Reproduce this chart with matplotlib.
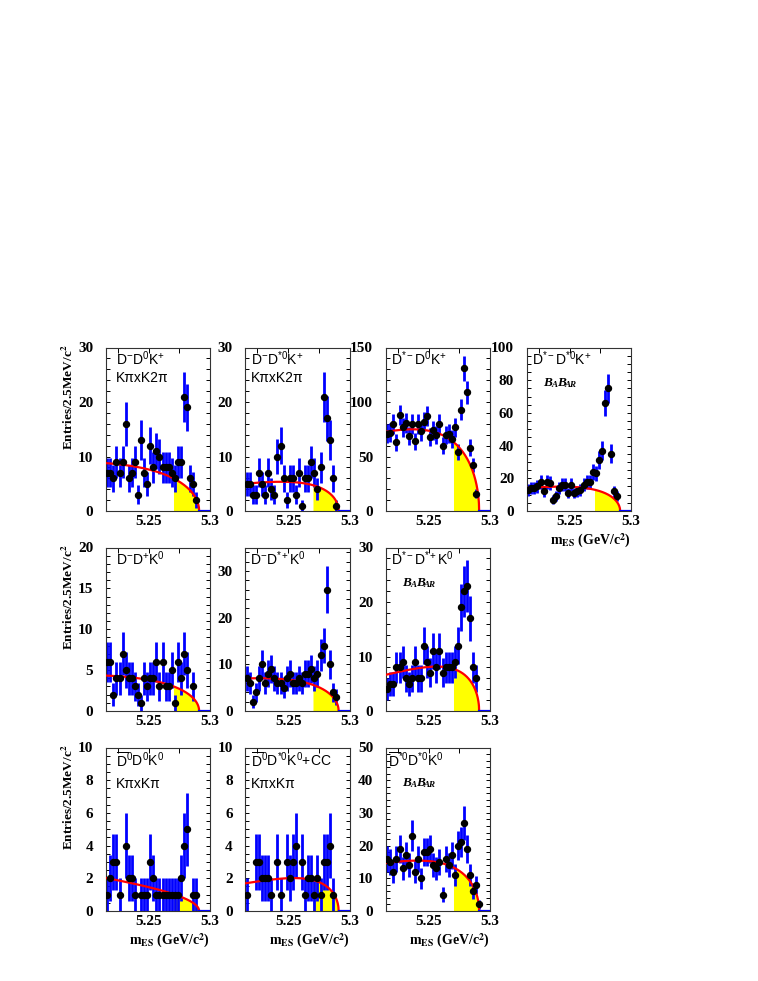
import numpy as np
import matplotlib.pyplot as plt
from matplotlib.ticker import MultipleLocator

plt.rcParams['font.family'] = ['Liberation Serif', 'DejaVu Serif']
plt.rcParams['mathtext.fontset'] = 'custom'
plt.rcParams['mathtext.rm'] = 'Liberation Sans'
plt.rcParams['mathtext.it'] = 'Liberation Sans:italic'
plt.rcParams['mathtext.bf'] = 'Liberation Sans:bold'

nan = np.nan

# entries per 2.5 MeV bin, first bin centred at 5.21625 GeV (nan = empty bin)
dm_d0_kp = [7, 7, 6, 9, 7, 9, 16, 6, 7, 9, 3, 13, 7, 5, 12, 8, 11, 10, 8, 8,
            8, 7, 6, 9, 9, 21, 19, 6, 5, 2]
dm_ds0_kp = [5, 5, 3, 3, 7, 5, 3, 7, 4, 3, 10, 12, 6, 2, 6, 6, 3, 7, 1, 6,
             6, 9, 7, 4, 8, 21, 17, 13, 6, 1]
dsm_d0_kp = [71, 72, 80, 63, 88, 77, 81, 69, 80, 64, 80, 73, 82, 87, 68, 74,
             70, 80, 60, 70, 71, 66, 77, 54, 93, 131, 109, 58, 42, 16]
dsm_ds0_kp = [13, 14, 14, 15, 18, 12, 18, 17, 7, 9, 14, 16, 16, 11, 16, 11,
              12, 13, 16, 18, 18, 24, 23, 31, 37, 66, 75, 35, 12, 9]
dm_dp_k0 = [6, 6, 2, 4, 4, 7, 5, 4, 4, 3, 2, 1, 4, 3, 4, 4, 6, 3, 6, 3,
            3, 5, 1, 6, 4, 7, 5, nan, 3, nan]
dm_dsp_k0 = [7, 6, 2, 4, 7, 10, 6, 8, 9, 7, 6, 6, 5, 7, 8, 6, 6, 7, 6, 8,
             8, 9, 7, 8, 12, 14, 26, 10, 4, 3]
dsm_dsp_k0 = [4, 5, 5, 8, 8, 9, 6, 5, 6, 9, 6, 6, 12, 9, 7, 11, 8, 11, 7, 8,
              8, 8, 9, 12, 19, 22, 23, 17, 8, 6]
d0b_d0_k0 = [1, 2, 3, 3, 1, nan, 4, 2, 2, 1, nan, 1, 1, 1, 3, 2, 1, 1, 1, 1,
             1, 1, 1, 1, 2, 4, 5, nan, 1, 1]
d0b_ds0_k0 = [1, nan, nan, 3, 3, 2, 2, 2, 1, nan, 3, 1, nan, 3, 2, 3, 4, nan,
              3, 1, 2, 2, 1, 2, 1, 3, 3, 4, 1, nan]
ds0b_ds0_k0 = [16, 15, 12, 16, 19, 13, 17, 14, 23, 12, 16, 10, 18, 18, 19, 14,
               13, 15, 5, 16, 14, 17, 11, 20, 21, 27, 19, 11, 6, 8, 2]

# panel titles
titles = [
    [r'D$^{-}$D$^{0}$K$^{+}$', 'KπxK2π'],
    [r'D$^{-}$D$^{*0}$K$^{+}$', 'KπxK2π'],
    [r'D$^{*-}$D$^{0}$K$^{+}$'],
    [r'D$^{*-}$D$^{*0}$K$^{+}$'],
    [r'D$^{-}$D$^{+}$K$^{0}$'],
    [r'D$^{-}$D$^{*+}$K$^{0}$'],
    [r'D$^{*-}$D$^{*+}$K$^{0}$'],
    [r'$\overline{\mathrm{D}}^{0}$D$^{0}$K$^{0}$', 'KπxKπ'],
    [r'$\overline{\mathrm{D}}^{0}$D$^{*0}$K$^{0}$+CC', 'KπxKπ'],
    [r'$\overline{\mathrm{D}}^{*0}$D$^{*0}$K$^{0}$'],
]

# ARGUS background: height at 5.22 GeV and shape parameter
argus_level = [8.7, 5.1, 73.5, 14.3, 4.3, 7.0, 6.9, 1.95, 1.75, 14.9]
argus_shape = [-12, -28, -24, -27, -13, -20, -38, 2, -36, -26]
m_end = 5.291
m_sig = 5.27

counts = [dm_d0_kp, dm_ds0_kp, dsm_d0_kp, dsm_ds0_kp, dm_dp_k0, dm_dsp_k0,
          dsm_dsp_k0, d0b_d0_k0, d0b_ds0_k0, ds0b_ds0_k0]
ymax = [30, 30, 150, 100, 20, 35, 30, 10, 10, 50]
ystep = [10, 10, 50, 20, 5, 10, 10, 2, 2, 10]
ystep_minor = [2, 2, 10, 5, 1, 2, 2, 0.5, 0.5, 2]
grid = [(0, 0), (0, 1), (0, 2), (0, 3), (1, 0), (1, 1), (1, 2),
        (2, 0), (2, 1), (2, 2)]
title_x = [0.10, 0.055, 0.048, 0.048, 0.10, 0.048, 0.048, 0.10, 0.055, 0.02]
title_y = [(0.89, 0.786)] * 7 + [(0.882, 0.755)] * 3
babar = [3, 6, 9]
xlab = [3, 7, 8, 9]

W, H = 758, 981
col_left = [105.7, 245.2, 385.7, 526.7]
row_top = [347.5, 547.5, 747.5]
pw, ph = 104.5, 163.5


def argus(m, c):
    u = np.clip(1 - (m / m_end) ** 2, 0, None)
    return m * np.sqrt(u) * np.exp(c * u)


def draw_babar(ax, x, y):
    kw = dict(style='italic', weight='bold', family='Liberation Serif', color='k')
    t = ax.text(x, y, 'B', transform=ax.transAxes, fontsize=9.5, va='bottom', **kw)
    for s, fs in [('A', 6.5), ('B', 9.5), ('AR', 6.5)]:
        t = ax.annotate(s, xy=(1, 0), xycoords=t, xytext=(-0.6, 0),
                        textcoords='offset points', fontsize=fs, va='bottom', **kw)


fig = plt.figure(figsize=(W / 100, H / 100), dpi=100)

for i in range(len(counts)):
    r, c = grid[i]
    ax = fig.add_axes([col_left[c] / W, 1 - (row_top[r] + ph) / H, pw / W, ph / H])
    y = np.array(counts[i], dtype=float)
    x = 5.21625 + 0.0025 * np.arange(len(y))

    m = np.linspace(5.215, m_end, 500)
    f = argus_level[i] * argus(m, argus_shape[i]) / argus(5.22, argus_shape[i])
    sel = m >= m_sig
    ax.fill_between(m[sel], 0, f[sel], color='#ffff00', lw=0, zorder=1)
    ax.errorbar(x, y, yerr=np.sqrt(y), fmt='none', ecolor='#0000ff',
                elinewidth=2.0, capsize=0, zorder=2)
    ax.plot(m, f, color='#ff0000', lw=1.6, zorder=3)
    ax.plot([m_end, 5.3], [0, 0], color='#0000ff', lw=1.6, zorder=3)
    ax.plot(x, y, 'o', color='k', ms=4.3, zorder=4)

    ax.set_xlim(5.215, 5.3)
    ax.set_ylim(0, ymax[i])
    ax.xaxis.set_major_locator(MultipleLocator(0.05))
    ax.xaxis.set_minor_locator(MultipleLocator(0.025))
    ax.xaxis.set_major_formatter(plt.FuncFormatter(lambda v, p: '%g' % round(v, 3)))
    ax.yaxis.set_major_locator(MultipleLocator(ystep[i]))
    ax.yaxis.set_minor_locator(MultipleLocator(ystep_minor[i]))
    ax.tick_params(axis='y', which='both', direction='in', left=True, right=True,
                   labelsize=11, pad=9, width=0.7, length=3)
    ax.tick_params(axis='x', which='both', direction='in', bottom=False, top=True,
                   labelsize=11, pad=3, length=3.5, width=0.7)
    for lab in ax.get_xticklabels() + ax.get_yticklabels():
        lab.set_fontweight('bold')
    for s in ax.spines.values():
        s.set_linewidth(0.8)
        s.set_color('#333333')

    for j, line in enumerate(titles[i]):
        ax.text(title_x[i], title_y[i][j], line, transform=ax.transAxes,
                family='Liberation Sans', fontsize=10,
                va='baseline', ha='left')
    if i in babar:
        draw_babar(ax, 0.16, 0.745)
    if i in xlab:
        ax.text(1.0, -0.185, r'm$_{\mathbf{ES}}$ (GeV/c$^{\mathbf{2}}$)',
                transform=ax.transAxes, ha='right', va='center', fontsize=10,
                weight='bold', math_fontfamily='stix')
    if c == 0:
        ax.text(-0.36, 1.02, r'Entries/2.5MeV/c$^{\mathbf{2}}$', rotation=90,
                transform=ax.transAxes, ha='center', va='top', fontsize=9.5,
                weight='bold', math_fontfamily='stix')

fig.savefig('out.png', dpi=100)
